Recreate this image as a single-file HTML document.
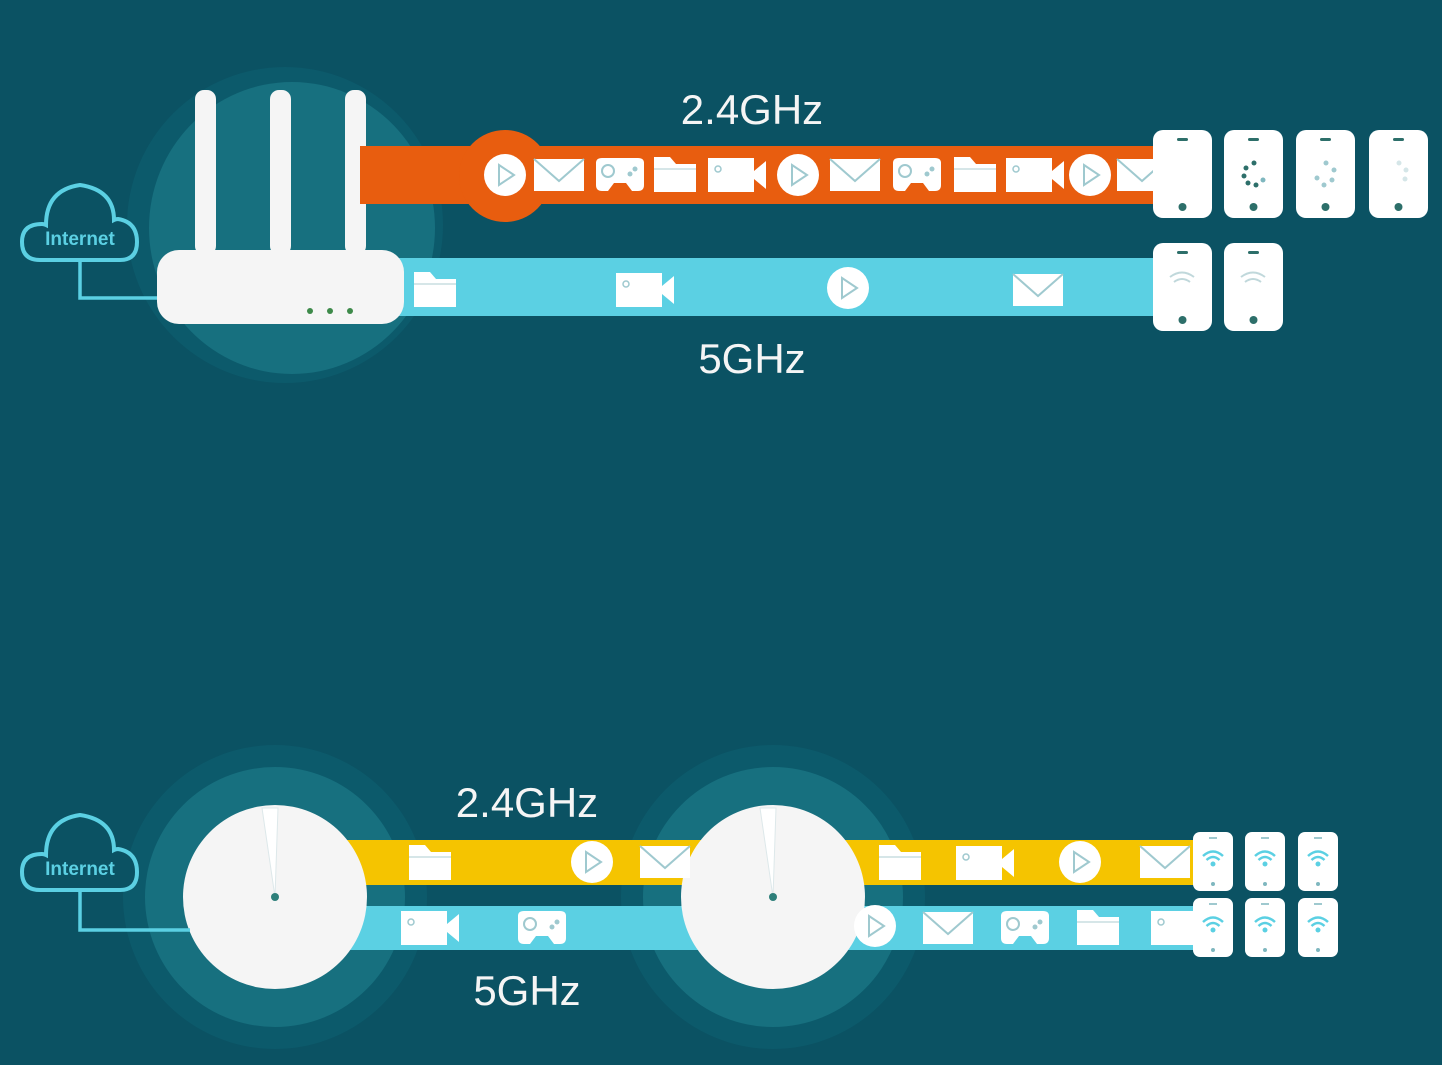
<!DOCTYPE html>
<html><head><meta charset="utf-8"><style>
html,body{margin:0;padding:0;background:#0b5263;}
svg{display:block;}
text{font-family:"Liberation Sans",sans-serif;}
</style></head><body>
<svg width="1442" height="1065" viewBox="0 0 1442 1065" xmlns="http://www.w3.org/2000/svg">
<defs>
<g id="play"><circle cx="0" cy="0" r="21" fill="#fff"/><path d="M-6,-10 L9,0 L-6,10 Z" fill="none" stroke="#9fc9cf" stroke-width="2"/></g>
<g id="mail"><rect x="-25" y="-16" width="50" height="32" fill="#fff"/><path d="M-25,-16 L0,6 L25,-16" fill="none" stroke="#9fc9cf" stroke-width="2"/></g>
<g id="game"><path d="M-24,-12 Q-24,-17 -18,-17 L18,-17 Q24,-17 24,-12 L24,10 Q24,16 18,16 L12,16 L6,8 L-6,8 L-12,16 L-18,16 Q-24,16 -24,10 Z" fill="#fff"/><circle cx="-12" cy="-4" r="6" fill="none" stroke="#9fc9cf" stroke-width="2"/><circle cx="10" cy="-1" r="2.5" fill="#9fc9cf"/><circle cx="15" cy="-6" r="2.5" fill="#9fc9cf"/></g>
<g id="folder"><path d="M-21,-18 L-5,-18 L1,-11 L21,-11 L21,17 L-21,17 Z" fill="#fff"/><line x1="-21" y1="-6" x2="21" y2="-6" stroke="#c9dde0" stroke-width="1.5"/></g>
<g id="cam"><rect x="-29" y="-17" width="46" height="34" fill="#fff"/><path d="M17,-4 L29,-14 L29,14 L17,4 Z" fill="#fff"/><circle cx="-19" cy="-6" r="3" fill="none" stroke="#9fc9cf" stroke-width="1.5"/></g>
<g id="phone"><rect x="0" y="0" width="59" height="88" rx="10" fill="#fff"/><rect x="24" y="8" width="11" height="3" rx="1.5" fill="#2d6f6a"/><circle cx="29.5" cy="77" r="4" fill="#2d6f6a"/></g>
<g id="sphone"><rect x="0" y="0" width="40" height="59" rx="7" fill="#fff"/><rect x="16" y="5" width="8" height="2" fill="#9fc9cf"/><circle cx="20" cy="52" r="2" fill="#7fb7bf"/>
<path d="M10,24 Q20,15 30,24" fill="none" stroke="#5bd0e3" stroke-width="2.5"/><path d="M13.5,28 Q20,22 26.5,28" fill="none" stroke="#5bd0e3" stroke-width="2.5"/><circle cx="20" cy="32" r="2.5" fill="#5bd0e3"/></g>
<g id="cloud"><path d="M-40,30 Q-58,30 -58,12 Q-58,-6 -38,-6 Q-36,-6 -34,-5 Q-34,-40 0,-45 Q34,-40 34,-10 Q36,-11 38,-11 Q57,-8 57,12 Q57,30 40,30 Z" fill="#0b5263" stroke="#5bd0e3" stroke-width="4"/></g>
</defs>

<!-- TOP -->
<circle cx="285" cy="225" r="158" fill="#0c5a6b"/>
<ellipse cx="292" cy="228" rx="143" ry="146" fill="#17707f"/>
<rect x="195" y="90" width="21" height="165" rx="9" fill="#f5f5f5"/>
<rect x="270" y="90" width="21" height="165" rx="9" fill="#f5f5f5"/>
<rect x="345" y="90" width="21" height="165" rx="9" fill="#f5f5f5"/>
<rect x="360" y="146" width="795" height="58" fill="#e85d0f"/>
<circle cx="505" cy="176" r="46" fill="#e85d0f"/>
<rect x="395" y="258" width="760" height="58" fill="#5bd0e3"/>
<rect x="157" y="250" width="247" height="74" rx="22" fill="#f5f5f5"/>
<circle cx="310" cy="311" r="3" fill="#3d8a4a"/><circle cx="330" cy="311" r="3" fill="#3d8a4a"/><circle cx="350" cy="311" r="3" fill="#3d8a4a"/>
<use href="#cloud" x="80" y="230"/>
<text x="80" y="245" font-size="19" font-weight="bold" fill="#5bd0e3" text-anchor="middle">Internet</text>
<path d="M80,262 L80,298 L157,298" fill="none" stroke="#5bd0e3" stroke-width="3.5"/>

<use href="#play" x="505" y="175"/><use href="#mail" x="559" y="175"/><use href="#game" x="620" y="175"/>
<use href="#folder" x="675" y="175"/><use href="#cam" x="737" y="175"/><use href="#play" x="798" y="175"/>
<use href="#mail" x="855" y="175"/><use href="#game" x="917" y="175"/><use href="#folder" x="975" y="175"/>
<use href="#cam" x="1035" y="175"/><use href="#play" x="1090" y="175"/><use href="#mail" x="1142" y="175"/>

<use href="#folder" x="435" y="290"/><use href="#cam" x="645" y="290"/><use href="#play" x="848" y="288"/><use href="#mail" x="1038" y="290"/>

<text x="752" y="124" font-size="42" fill="#f5f5f5" text-anchor="middle">2.4GHz</text>
<text x="752" y="373" font-size="42" fill="#f5f5f5" text-anchor="middle">5GHz</text>

<use href="#phone" x="1153" y="130"/><use href="#phone" x="1224" y="130"/><use href="#phone" x="1296" y="130"/><use href="#phone" x="1369" y="130"/>
<use href="#phone" x="1153" y="243"/><use href="#phone" x="1224" y="243"/>
<g fill="#2d6f6a"><circle cx="1254" cy="163" r="2.5"/><circle cx="1246" cy="168" r="2.5"/><circle cx="1244" cy="176" r="2.5"/><circle cx="1248" cy="183" r="2.5"/><circle cx="1256" cy="185" r="2.5"/><circle cx="1263" cy="180" r="2.5" fill="#7fb7bf"/></g>
<g fill="#9fc9cf"><circle cx="1326" cy="163" r="2.5"/><circle cx="1334" cy="170" r="2.5"/><circle cx="1332" cy="180" r="2.5"/><circle cx="1324" cy="185" r="2.5"/><circle cx="1317" cy="178" r="2.5"/></g>
<g fill="#d5e6e8"><circle cx="1399" cy="163" r="2.5"/><circle cx="1406" cy="170" r="2.5"/><circle cx="1405" cy="179" r="2.5"/></g>
<g fill="none" stroke="#c0d8db" stroke-width="2"><path d="M1170,277 Q1182,268 1194,277"/><path d="M1174,282 Q1182,276 1190,282"/><path d="M1241,277 Q1253,268 1265,277"/><path d="M1245,282 Q1253,276 1261,282"/></g>

<!-- BOTTOM -->
<circle cx="275" cy="897" r="152" fill="#0c5a6b"/>
<circle cx="275" cy="897" r="130" fill="#17707f"/>
<circle cx="773" cy="897" r="152" fill="#0c5a6b"/>
<circle cx="773" cy="897" r="130" fill="#17707f"/>
<rect x="340" y="840" width="855" height="45" fill="#f5c400"/>
<rect x="340" y="906" width="855" height="44" fill="#5bd0e3"/>
<circle cx="275" cy="897" r="92" fill="#f5f5f5"/>
<circle cx="773" cy="897" r="92" fill="#f5f5f5"/>
<path d="M262,808 L278,808 L275,897 Z" fill="#fff" stroke="#dde8ea" stroke-width="1"/>
<path d="M760,808 L776,808 L773,897 Z" fill="#fff" stroke="#dde8ea" stroke-width="1"/>
<circle cx="275" cy="897" r="4" fill="#2d7f7a"/><circle cx="773" cy="897" r="4" fill="#2d7f7a"/>
<use href="#cloud" x="80" y="860"/>
<text x="80" y="875" font-size="19" font-weight="bold" fill="#5bd0e3" text-anchor="middle">Internet</text>
<path d="M80,892 L80,930 L190,930" fill="none" stroke="#5bd0e3" stroke-width="3.5"/>

<g transform="translate(0,0)">
<use href="#folder" x="430" y="863" transform="scale(1)"/>
<use href="#play" x="592" y="862"/>
<use href="#mail" x="665" y="862"/>
<use href="#folder" x="900" y="863"/><use href="#cam" x="985" y="863"/><use href="#play" x="1080" y="862"/><use href="#mail" x="1165" y="862"/>
<use href="#cam" x="430" y="928"/><use href="#game" x="542" y="928"/>
<use href="#play" x="875" y="926"/><use href="#mail" x="948" y="928"/><use href="#game" x="1025" y="928"/><use href="#folder" x="1098" y="928"/><use href="#cam" x="1180" y="928"/>
</g>

<text x="527" y="817" font-size="42" fill="#f5f5f5" text-anchor="middle">2.4GHz</text>
<text x="527" y="1005" font-size="42" fill="#f5f5f5" text-anchor="middle">5GHz</text>

<use href="#sphone" x="1193" y="832"/><use href="#sphone" x="1245" y="832"/><use href="#sphone" x="1298" y="832"/>
<use href="#sphone" x="1193" y="898"/><use href="#sphone" x="1245" y="898"/><use href="#sphone" x="1298" y="898"/>
</svg>
</body></html>
